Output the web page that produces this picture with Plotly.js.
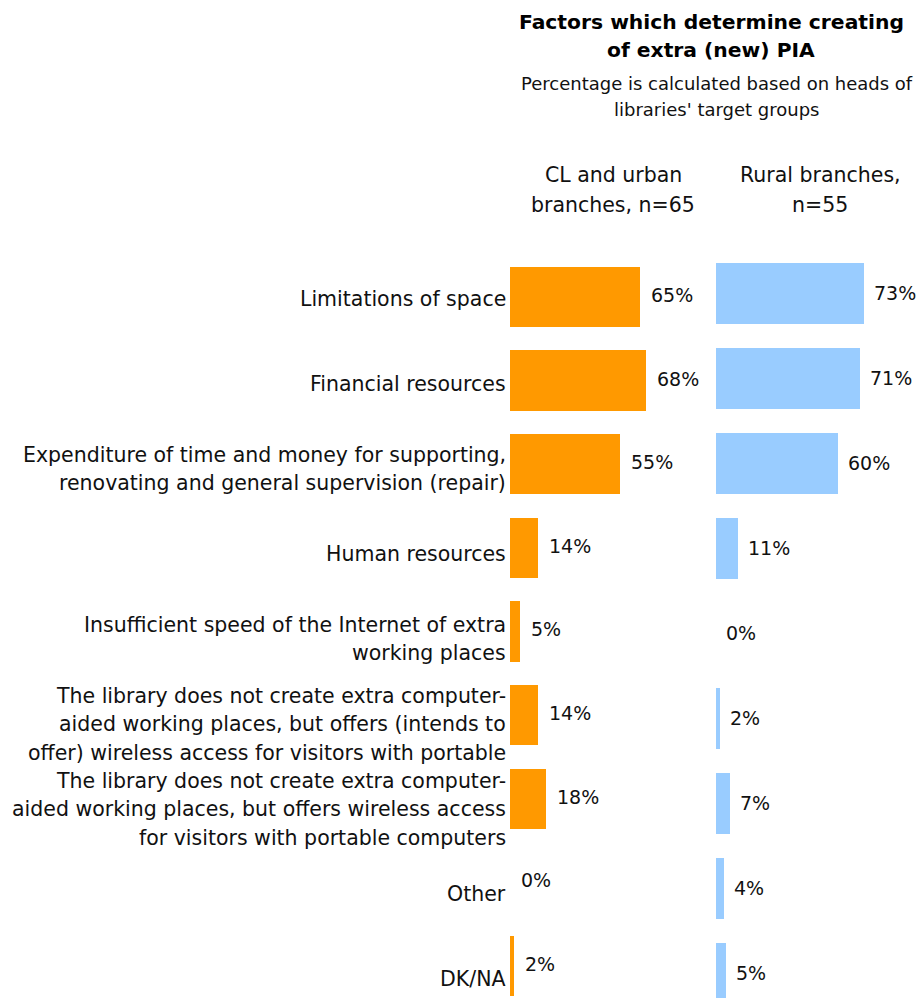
<!DOCTYPE html>
<html>
<head>
<meta charset="utf-8">
<script src="https://cdn.plot.ly/plotly-3.0.1.min.js"></script>
<style>
  html, body { margin: 0; padding: 0; background: #ffffff; }
  #chart { width: 919px; height: 998px; }
</style>
</head>
<body>
<div id="chart"></div>
<script>
// Factors which determine creating of extra (new) PIA — two panels of horizontal bars
const categories = [
  "Limitations of space",
  "Financial resources",
  "Expenditure of time and money for supporting,<br>renovating and general supervision (repair)",
  "Human resources",
  "Insufficient speed of the Internet of extra<br>working places",
  "The library does not create extra computer-<br>aided working places, but offers (intends to<br>offer) wireless access for visitors with portable",
  "The library does not create extra computer-<br>aided working places, but offers wireless access<br>for visitors with portable computers",
  "Other",
  "DK/NA"
];
const urbanValues = [65, 68, 55, 14, 5, 14, 18, 0, 2];
const ruralValues = [73, 71, 60, 11, 0, 2, 7, 4, 5];
const urbanHeader = ["CL and urban", "branches, n=65"];
const ruralHeader = ["Rural branches,", "n=55"];
const titleLines = ["Factors which determine creating", "of extra (new) PIA"];
const subtitleLines = ["Percentage is calculated based on heads of", "libraries' target groups"];

const W = 919, H = 998, TOP = 250;
const FONT = "DejaVu Sans, Verdana, sans-serif";
const ORANGE = "#ff9900";
const BLUE = "#99ccff";

// pixel -> paper helpers
const px = x => x / W;
const py = y => (H - y) / (H - TOP);

const idx = categories.map((_, i) => i);

const traces = [
  {
    type: "bar", orientation: "h",
    x: urbanValues, y: idx,
    xaxis: "x", yaxis: "y",
    width: 0.72,
    marker: { color: ORANGE, line: { width: 0 } },
    hoverinfo: "skip", showlegend: false
  },
  {
    type: "bar", orientation: "h",
    x: ruralValues, y: idx,
    xaxis: "x2", yaxis: "y2",
    width: 0.72,
    marker: { color: BLUE, line: { width: 0 } },
    hoverinfo: "skip", showlegend: false
  }
];

const annotations = [];
const txt = (o) => Object.assign({ showarrow: false, font: { family: FONT, size: 20.5, color: "#111" } }, o);

// value labels at the end of each bar
urbanValues.forEach((v, i) => {
  annotations.push(txt({
    xref: "x", yref: "y", x: v, y: i, xanchor: "left", yanchor: "middle",
    xshift: 9, yshift: 2, text: v + "%", font: { family: FONT, size: 19, color: "#111" }
  }));
});
ruralValues.forEach((v, i) => {
  annotations.push(txt({
    xref: "x2", yref: "y2", x: v, y: i, xanchor: "left", yanchor: "middle",
    xshift: 8, yshift: 1, text: v + "%", font: { family: FONT, size: 19, color: "#111" }
  }));
});

// category labels, one annotation per line for even line spacing
const LINE = 28.5;
categories.forEach((c, i) => {
  const lines = c.split("<br>");
  lines.forEach((ln, k) => {
    const off = 5.5 + (k - (lines.length - 1) / 2) * LINE;
    annotations.push(txt({
      xref: "paper", yref: "y2", x: px(508), y: i, xanchor: "right", yanchor: "middle",
      yshift: -off, text: ln
    }));
  });
});

// column headers
urbanHeader.forEach((ln, k) => annotations.push(txt({
  xref: "paper", yref: "paper", x: px(613), y: py(175 + k * 30), xanchor: "center", yanchor: "middle",
  text: ln, font: { family: FONT, size: 20.5, color: "#111" }
})));
ruralHeader.forEach((ln, k) => annotations.push(txt({
  xref: "paper", yref: "paper", x: px(820), y: py(175 + k * 30), xanchor: "center", yanchor: "middle",
  text: ln, font: { family: FONT, size: 20.5, color: "#111" }
})));

// title and subtitle
titleLines.forEach((ln, k) => annotations.push(txt({
  xref: "paper", yref: "paper", x: px(711), y: py(22 + k * 28), xanchor: "center", yanchor: "middle",
  text: "<b>" + ln + "</b>", font: { family: FONT, size: 20.3, color: "#000" }
})));
subtitleLines.forEach((ln, k) => annotations.push(txt({
  xref: "paper", yref: "paper", x: px(717), y: py(83 + k * 27), xanchor: "center", yanchor: "middle",
  text: ln, font: { family: FONT, size: 18, color: "#111" }
})));

const hiddenAxis = { showgrid: false, zeroline: false, showline: false, showticklabels: false, ticks: "", fixedrange: true };

const layout = {
  width: W, height: H,
  margin: { l: 0, r: 0, t: TOP, b: 0, pad: 0 },
  paper_bgcolor: "#ffffff", plot_bgcolor: "rgba(0,0,0,0)",
  bargap: 0,
  xaxis: Object.assign({}, hiddenAxis, { domain: [px(510), px(710)], range: [0, 100], anchor: "y" }),
  yaxis: Object.assign({}, hiddenAxis, { domain: [0, 1], range: [8.385, -0.562], anchor: "x" }),
  xaxis2: Object.assign({}, hiddenAxis, { domain: [px(716), 1], range: [0, 100], anchor: "y2" }),
  yaxis2: Object.assign({}, hiddenAxis, { domain: [0, 1], range: [8.288, -0.512], anchor: "x2" }),
  annotations: annotations,
  font: { family: FONT }
};

Plotly.newPlot("chart", traces, layout, { displayModeBar: false, staticPlot: true });
</script>
</body>
</html>
